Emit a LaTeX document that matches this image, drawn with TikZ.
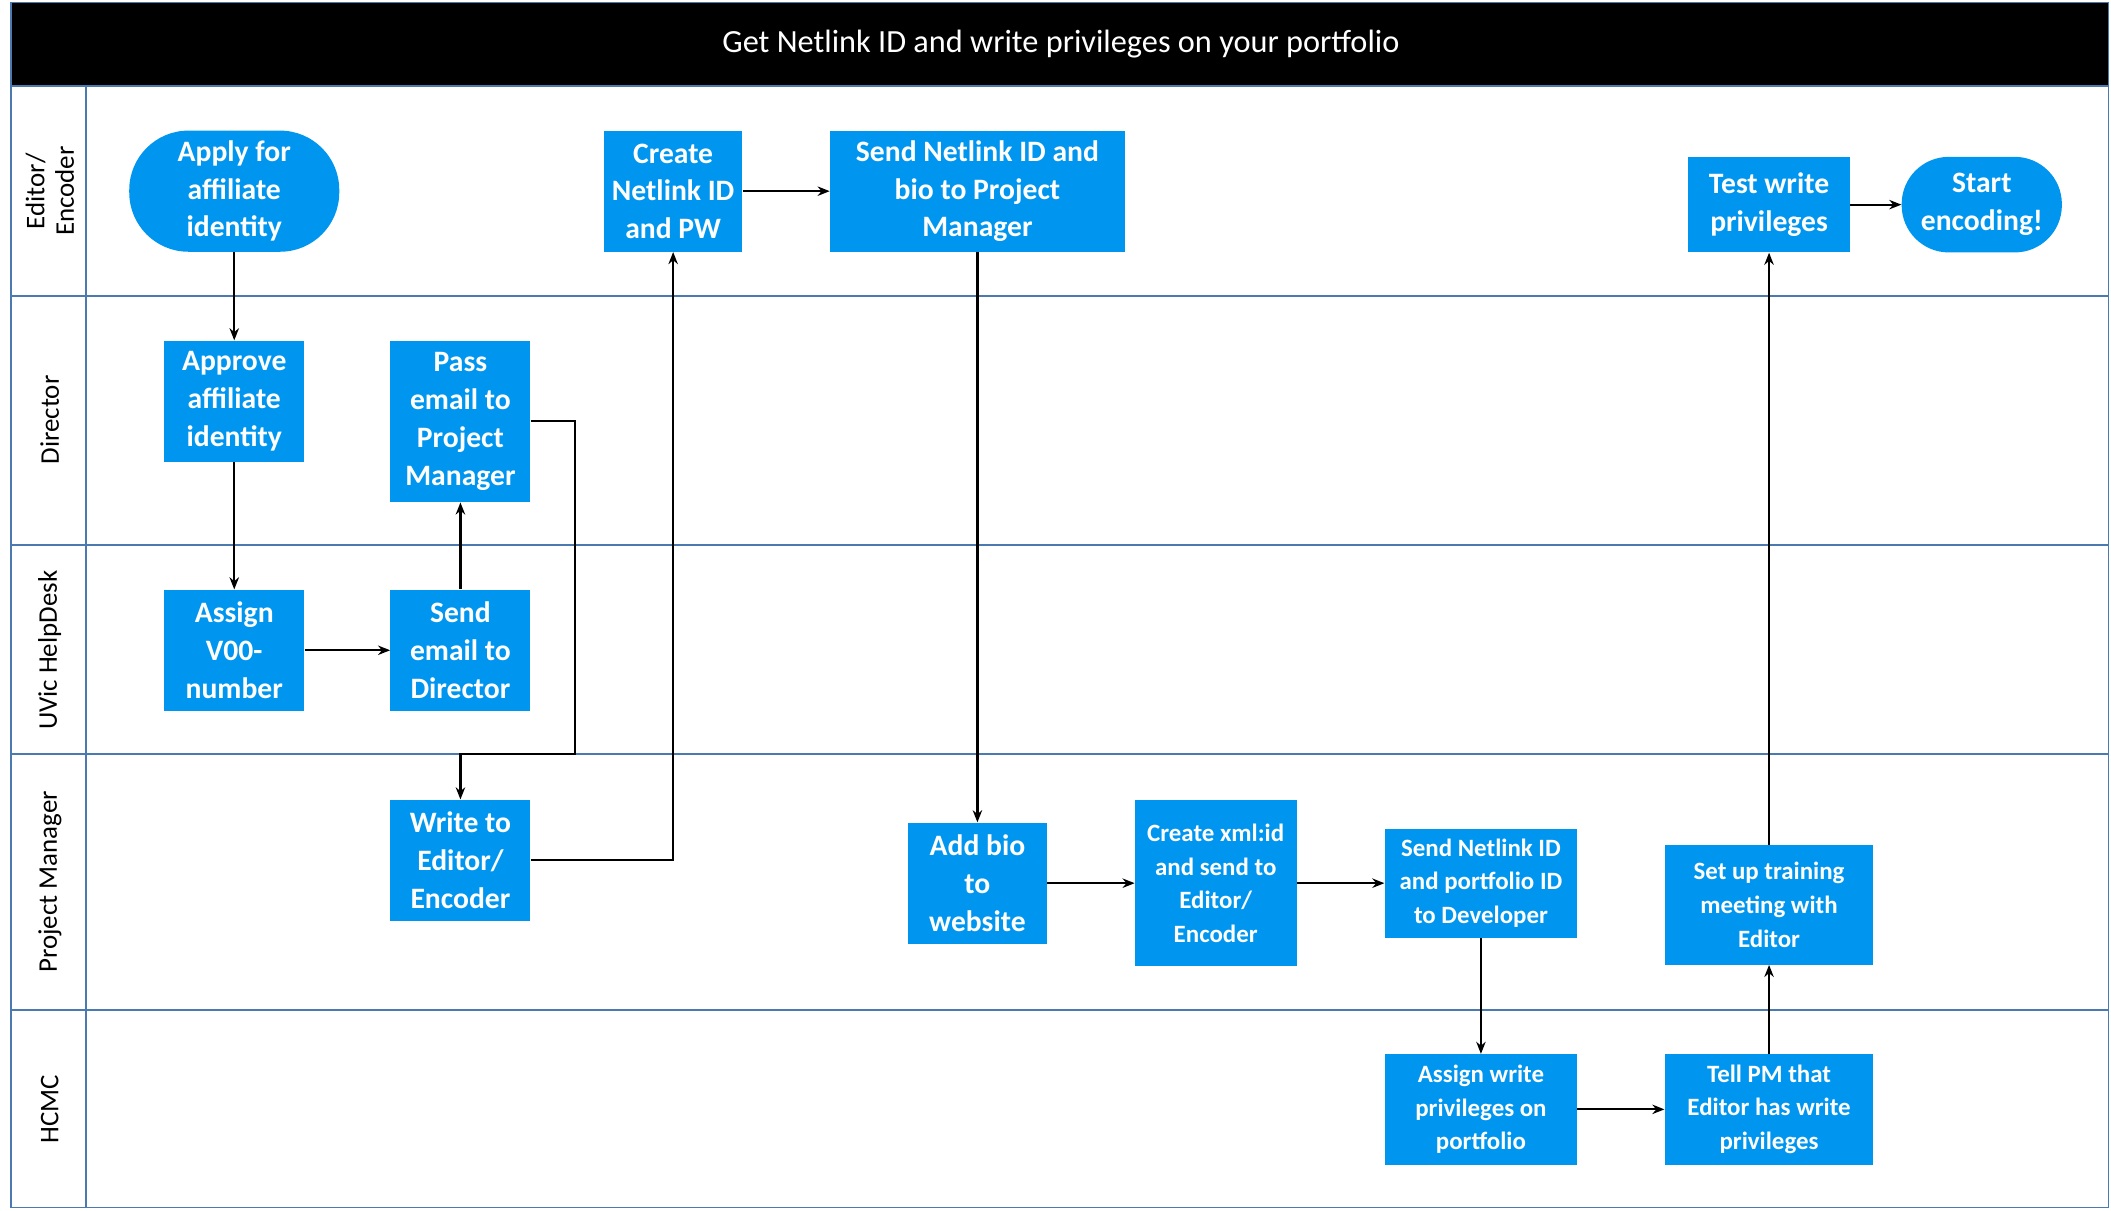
\documentclass[tikz,border=0pt]{standalone}
\usepackage{fontspec}
\setmainfont{Carlito}
\usetikzlibrary{arrows.meta}
\definecolor{boxblue}{HTML}{0096F0}
\definecolor{lane}{HTML}{4A7AB0}
\begin{document}
\begin{tikzpicture}[x=1pt,y=-1pt,
 box/.style={fill=boxblue,text=white,font=\fontsize{22}{28}\selectfont\bfseries,align=center,inner sep=0pt,anchor=center},
 sbox/.style={box,font=\fontsize{18.5}{25}\selectfont\bfseries},
 ar/.style={-{Stealth[length=9pt,width=7pt]},line width=1.6pt},
 ln/.style={line width=1.6pt},
 lbl/.style={rotate=90,font=\fontsize{20}{22}\selectfont,align=center}]
\useasboundingbox (0,0) rectangle (1568,899);
% frame and lanes
\fill[black] (8,2) rectangle (1566,64);
\node[text=white,font=\fontsize{24}{28}\selectfont] (title) at (788,33) {Get Netlink ID and write privileges on your portfolio};
\draw[lane,line width=1.2pt] (8,2) rectangle (1566,897);
\foreach \y in {64,220,405,560,750} \draw[lane,line width=1.2pt] (8,\y) -- (1566,\y);
\draw[lane,line width=1.2pt] (64,64) -- (64,897);
\node[lbl] (l1) at (37,142) {Editor/\\Encoder};
\node[lbl] (l2) at (37,312) {Director};
\node[lbl] (l3) at (37,483) {UVic HelpDesk};
\node[lbl] (l4) at (37,655) {Project Manager};
\node[lbl] (l5) at (37,824) {HCMC};
% nodes
\node[box,rounded corners=44pt,minimum width=156pt,minimum height=90pt] (apply) at (174,142) {Apply for\\affiliate\\identity};
\node[box,minimum width=103pt,minimum height=90pt] (create) at (500,142) {Create\\Netlink ID\\and PW};
\node[box,minimum width=219pt,minimum height=90pt] (send1) at (726,142) {Send Netlink ID and\\bio to Project\\Manager};
\node[box,minimum width=120pt,minimum height=71pt] (test) at (1314,152) {Test write\\privileges};
\node[box,rounded corners=35pt,minimum width=119pt,minimum height=71pt] (start) at (1472,152) {Start\\encoding!};
\node[box,minimum width=104pt,minimum height=90pt] (approve) at (174,298) {Approve\\affiliate\\identity};
\node[box,minimum width=104pt,minimum height=120pt] (pass) at (342,313) {Pass\\email to\\Project\\Manager};
\node[box,minimum width=104pt,minimum height=90pt] (assign) at (174,483) {Assign\\V00-\\number};
\node[box,minimum width=104pt,minimum height=90pt] (sendemail) at (342,483) {Send\\email to\\Director};
\node[box,minimum width=104pt,minimum height=90pt] (write) at (342,639) {Write to\\Editor/\\Encoder};
\node[box,minimum width=103pt,minimum height=90pt] (addbio) at (726,656) {Add bio\\to\\website};
\node[sbox,minimum width=120pt,minimum height=123pt] (xml) at (903,656) {Create xml:id\\and send to\\Editor/\\Encoder};
\node[sbox,minimum width=143pt,minimum height=81pt] (sendnet) at (1100,656) {Send Netlink ID\\and portfolio ID\\to Developer};
\node[sbox,minimum width=155pt,minimum height=89pt] (setup) at (1314,672) {Set up training\\meeting with\\Editor};
\node[sbox,minimum width=143pt,minimum height=82pt] (assignw) at (1100,824) {Assign write\\privileges on\\portfolio};
\node[sbox,minimum width=155pt,minimum height=82pt] (tell) at (1314,824) {Tell PM that\\Editor has write\\privileges};
\coordinate (c1) at (427,313);
\coordinate (c2) at (427,560);
\coordinate (c3) at (342,560);
\coordinate (c4) at (500,639);
% edges
\draw[ar] (apply) -- (approve);
\draw[ar] (approve) -- (assign);
\draw[ar] (assign) -- (sendemail);
\draw[ar] (sendemail) -- (pass);
\draw[ar] (pass.east) -- (c1) -- (c2) -- (c3) -- (write.north);
\draw[ar] (write.east) -- (c4) -- (create.south);
\draw[ar] (create) -- (send1);
\draw[ar] (send1) -- (addbio);
\draw[ar] (addbio) -- (xml);
\draw[ar] (xml) -- (sendnet);
\draw[ar] (sendnet) -- (assignw);
\draw[ar] (assignw) -- (tell);
\draw[ar] (tell) -- (setup);
\draw[ar] (setup) -- (test);
\draw[ar] (test) -- (start);
\end{tikzpicture}
\end{document}
